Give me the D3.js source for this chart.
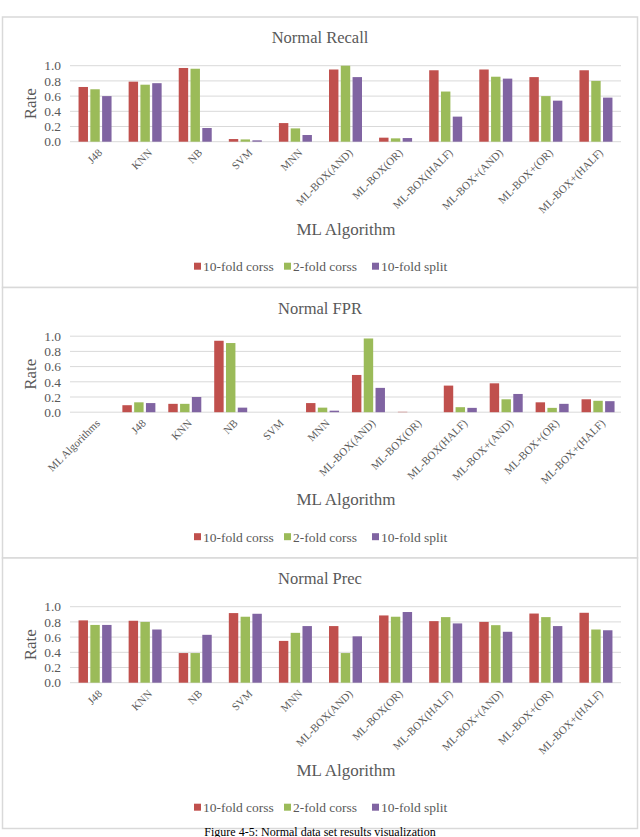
<!DOCTYPE html>
<html><head><meta charset="utf-8">
<script src="https://cdn.jsdelivr.net/npm/d3@7"></script>
<style>body{margin:0;background:#fff}svg{display:block}svg text{font-family:"Liberation Serif","Times New Roman",Times,serif}</style>
</head><body>
<svg id="c" width="640" height="837"></svg>
<script>
const seriesNames = ["10-fold corss", "2-fold corss", "10-fold split"];
const colors = ["#C0504D", "#9BBB59", "#8064A2"];
const yTicks = [0, 0.2, 0.4, 0.6, 0.8, 1.0];

const recallCategories = ["J48","KNN","NB","SVM","MNN","ML-BOX(AND)","ML-BOX(OR)","ML-BOX(HALF)","ML-BOX+(AND)","ML-BOX+(OR)","ML-BOX+(HALF)"];
const recall10Cross = [0.72,0.79,0.97,0.035,0.245,0.95,0.053,0.94,0.95,0.85,0.94];
const recall2Cross  = [0.69,0.75,0.96,0.03,0.175,1.0,0.044,0.66,0.855,0.60,0.80];
const recallSplit   = [0.60,0.77,0.18,0.018,0.088,0.85,0.048,0.33,0.83,0.54,0.58];

const fprCategories = ["ML Algorithms","J48","KNN","NB","SVM","MNN","ML-BOX(AND)","ML-BOX(OR)","ML-BOX(HALF)","ML-BOX+(AND)","ML-BOX+(OR)","ML-BOX+(HALF)"];
const fpr10Cross = [null,0.092,0.11,0.94,0,0.12,0.49,0.005,0.35,0.38,0.13,0.17];
const fpr2Cross  = [null,0.13,0.11,0.91,0,0.06,0.97,0,0.066,0.17,0.057,0.15];
const fprSplit   = [null,0.12,0.20,0.06,0,0.02,0.32,0,0.057,0.24,0.11,0.145];

const precCategories = ["J48","KNN","NB","SVM","MNN","ML-BOX(AND)","ML-BOX(OR)","ML-BOX(HALF)","ML-BOX+(AND)","ML-BOX+(OR)","ML-BOX+(HALF)"];
const prec10Cross = [0.82,0.815,0.39,0.916,0.55,0.745,0.885,0.81,0.80,0.91,0.92];
const prec2Cross  = [0.76,0.80,0.39,0.868,0.656,0.39,0.868,0.863,0.757,0.863,0.70];
const precSplit   = [0.76,0.70,0.63,0.907,0.745,0.61,0.93,0.78,0.67,0.745,0.69];

const charts = [
  {title:"Normal Recall", cats:recallCategories, series:[recall10Cross,recall2Cross,recallSplit], top:17},
  {title:"Normal FPR", cats:fprCategories, series:[fpr10Cross,fpr2Cross,fprSplit], top:287.5},
  {title:"Normal Prec", cats:precCategories, series:[prec10Cross,prec2Cross,precSplit], top:558}
];

const svg = d3.select("#c");
const textCol = "#595959";
const left = 70, right = 621;

charts.forEach(ch => {
  const g = svg.append("g");
  const panelH = 270.5;
  g.append("rect").attr("x",2.5).attr("y",ch.top).attr("width",635).attr("height",panelH)
    .attr("fill","#fff").attr("stroke","#d9d9d9").attr("stroke-width",1.5);
  const zero = ch.top + 124.7;
  const y = d3.scaleLinear().domain([0,1]).range([zero, zero-76]);
  const x = d3.scaleBand().domain(ch.cats).range([left,right]);
  const inner = d3.scaleBand().domain(d3.range(3)).range([0,33]).paddingInner(0.2);

  g.selectAll(".grid").data(yTicks).join("line")
    .attr("x1",left).attr("x2",right).attr("y1",d=>y(d)).attr("y2",d=>y(d))
    .attr("stroke","#d9d9d9").attr("stroke-width",1);
  g.selectAll(".yl").data(yTicks).join("text")
    .attr("x",61).attr("y",d=>y(d)).attr("dy","0.35em").attr("text-anchor","end")
    .attr("font-size",13.5).attr("fill",textCol)
    .text(d=>d3.format(".1f")(d));
  ch.series.forEach((vals,si) => {
    g.selectAll(".b"+si).data(ch.cats.map((c,i)=>({c,v:vals[i]})).filter(d=>d.v!==null)).join("rect")
      .attr("x",d=>x(d.c)+x.bandwidth()/2-16.5+inner(si))
      .attr("width",inner.bandwidth())
      .attr("y",d=>y(d.v)).attr("height",d=>zero-y(d.v))
      .attr("fill",colors[si]);
  });
  g.selectAll(".xl").data(ch.cats).join("text")
    .attr("transform",d=>`translate(${x(d)+x.bandwidth()/2+5},${zero+9}) rotate(-45)`)
    .attr("text-anchor","end").attr("dy","0.35em")
    .attr("font-size",11).attr("fill",textCol)
    .text(d=>d);
  g.append("text").attr("x",320).attr("y",zero-104).attr("dy","0.35em").attr("text-anchor","middle")
    .attr("font-size",16.5).attr("fill",textCol).text(ch.title);
  g.append("text").attr("transform",`translate(30,${zero-38}) rotate(-90)`).attr("dy","0.35em")
    .attr("text-anchor","middle").attr("font-size",17).attr("fill",textCol).text("Rate");
  g.append("text").attr("x",346).attr("y",zero+87).attr("dy","0.35em").attr("text-anchor","middle")
    .attr("font-size",17).attr("fill",textCol).text("ML Algorithm");
  const lx = [194, 284, 372];
  seriesNames.forEach((s,i)=>{
    g.append("rect").attr("x",lx[i]).attr("y",zero+121).attr("width",7).attr("height",7).attr("fill",colors[i]);
    g.append("text").attr("x",lx[i]+9).attr("y",zero+125).attr("dy","0.35em")
      .attr("font-size",13.5).attr("fill",textCol).text(s);
  });
});

svg.append("text").attr("x",320).attr("y",835.5).attr("text-anchor","middle")
  .attr("font-size",12).attr("fill","#000")
  .text("Figure 4-5: Normal data set results visualization");
</script>
</body></html>
